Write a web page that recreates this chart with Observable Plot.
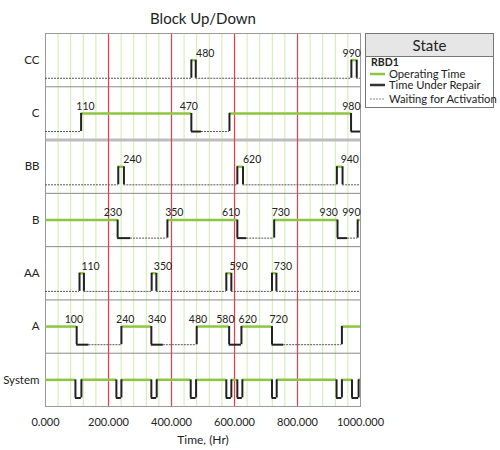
<!DOCTYPE html>
<html>
<head>
<meta charset="utf-8">
<script src="https://cdn.jsdelivr.net/npm/d3@7"></script>
<script src="https://cdn.jsdelivr.net/npm/@observablehq/plot@0.6"></script>
<style>
  body { margin: 0; background: #fff; font-family: Lato, "Open Sans", sans-serif; }
  #wrap { position: relative; width: 500px; height: 450px; }
  #legend { position: absolute; left: 365px; top: 33px; width: 127px; height: 73px; border: 1px solid #777; background: #fff; color: #222; }
  #legend .hdr { height: 22px; background: #e6e6e6; border-bottom: 1px solid #777; text-align: center; font-size: 15px; line-height: 22px; }
  #legend .grp { position: absolute; left: 5px; top: 23px; font-size: 10.5px; font-weight: bold; line-height: 10px; }
  #legend .item { position: absolute; left: 4px; height: 11px; font-size: 11.2px; line-height: 11px; white-space: nowrap; }
  #legend .item svg { position: absolute; left: 0; top: 3px; }
  #legend .item span { position: absolute; left: 19px; top: 0; }
</style>
</head>
<body>
<div id="wrap">
  <div id="chart"></div>
  <div id="legend">
    <div class="hdr">State</div>
    <div class="grp">RBD1</div>
    <div class="item" style="top:33.5px"><svg width="15" height="6"><line x1="0" x2="15" y1="3" y2="3" stroke="#8dc641" stroke-width="2.5"/></svg><span>Operating Time</span></div>
    <div class="item" style="top:45px"><svg width="15" height="6"><line x1="0" x2="15" y1="3" y2="3" stroke="#333" stroke-width="2.5"/></svg><span>Time Under Repair</span></div>
    <div class="item" style="top:59px"><svg width="15" height="6"><line x1="0" x2="15" y1="3" y2="3" stroke="#888" stroke-width="1" stroke-dasharray="2,1"/></svg><span>Waiting for Activation</span></div>
  </div>
</div>
<script>
// Row names (top to bottom)
const rowNames = ["CC", "C", "BB", "B", "AA", "A", "System"];

// State change times and the state in each interval: O = operating, R = under repair, W = waiting
const ccTimes = [0, 463, 477, 971, 988, 1000];
const ccStates = ["W", "O", "W", "O", "W"];
const cTimes = [0, 113, 463, 495, 584, 970, 1000];
const cStates = ["W", "O", "R", "W", "O", "R"];
const bbTimes = [0, 231, 249, 609, 627, 925, 943, 1000];
const bbStates = ["W", "O", "W", "O", "W", "O", "W"];
const bTimes = [0, 229, 270, 387, 609, 639, 726, 927, 959, 991, 1000];
const bStates = ["O", "R", "W", "O", "R", "W", "O", "R", "W", "O"];
const aaTimes = [0, 108, 122, 337, 352, 574, 590, 719, 733, 1000];
const aaStates = ["W", "O", "W", "O", "W", "O", "W", "O", "W"];
const aTimes = [0, 99, 138, 241, 336, 374, 480, 583, 622, 719, 756, 941, 1000];
const aStates = ["O", "R", "W", "O", "R", "W", "O", "R", "O", "R", "W", "O"];
const sysTimes = [0, 95, 114, 225, 241, 336, 353, 461, 478, 574, 590, 609, 625, 719, 734, 924, 941, 973, 994, 1000];
const sysStates = ["O", "R", "O", "R", "O", "R", "O", "R", "O", "R", "O", "R", "O", "R", "O", "R", "O", "R", "O"];

// Event labels (text) and the time they sit at
const ccLabels = ["480", "990"];      const ccLabelAt = [507, 972];
const cLabels = ["110", "470", "980"]; const cLabelAt = [127, 455, 971];
const bbLabels = ["240", "620", "940"]; const bbLabelAt = [276, 656, 966];
const bLabels = ["230", "350", "610", "730", "930", "990"]; const bLabelAt = [214, 409, 589, 747, 899, 971];
const aaLabels = ["110", "350", "590", "730"]; const aaLabelAt = [143, 373, 613, 754];
const aLabels = ["100", "240", "340", "480", "580", "620", "720"]; const aLabelAt = [90, 253, 354, 484, 571, 642, 740];
const sysLabels = []; const sysLabelAt = [];

// Axis ticks and grid
const xTicks = [0, 200, 400, 600, 800, 1000];
const redGrid = [200, 400, 600, 800];
const greenGrid = [40, 80, 120, 160, 240, 280, 320, 360, 440, 480, 520, 560, 640, 680, 720, 760, 840, 880, 920, 960];

const rows = [
  [ccTimes, ccStates, ccLabels, ccLabelAt],
  [cTimes, cStates, cLabels, cLabelAt],
  [bbTimes, bbStates, bbLabels, bbLabelAt],
  [bTimes, bStates, bLabels, bLabelAt],
  [aaTimes, aaStates, aaLabels, aaLabelAt],
  [aTimes, aStates, aLabels, aLabelAt],
  [sysTimes, sysStates, sysLabels, sysLabelAt]
];

const HIGH = 0.5, LOW = 0.84;
const level = s => (s === "O" ? HIGH : LOW);
const segs = [], verts = [], labels = [];
rows.forEach(([times, states, labs, at], r) => {
  states.forEach((s, k) => segs.push({x1: times[k], x2: times[k + 1], y: r + level(s), s}));
  for (let k = 1; k < states.length; k++) {
    if (level(states[k]) !== level(states[k - 1])) verts.push({x: times[k], y1: r + HIGH, y2: r + LOW});
  }
  labs.forEach((t, k) => labels.push({x: at[k], y: r + HIGH, t}));
});

const font = "Lato";
const chart = Plot.plot({
  width: 500,
  height: 450,
  marginLeft: 45,
  marginRight: 140,
  marginTop: 33,
  marginBottom: 44,
  style: {fontFamily: font, color: "#222", background: "#fff"},
  x: {domain: [0, 1000]},
  y: {domain: [0, 7], reverse: true, axis: null},
  marks: [
    Plot.ruleX(greenGrid, {x: d => d, stroke: "#d3e9b0", strokeWidth: 1}),
    Plot.ruleY([1, 3, 4, 5, 6], {y: d => d, stroke: "#8a8a8a", strokeWidth: 1}),
    Plot.ruleY([2], {y: d => d, stroke: "#bdbdbd", strokeWidth: 3}),
    Plot.ruleX(redGrid, {x: d => d, stroke: "#ef3b45", strokeWidth: 1.2}),
    Plot.frame({stroke: "#999"}),
    Plot.ruleY(segs.filter(d => d.s === "W"), {x1: "x1", x2: "x2", y: "y", stroke: "#555", strokeWidth: 1, strokeDasharray: "2,1"}),
    Plot.ruleY(segs.filter(d => d.s === "R"), {x1: "x1", x2: "x2", y: "y", stroke: "#222", strokeWidth: 2}),
    Plot.ruleY(segs.filter(d => d.s === "O"), {x1: "x1", x2: "x2", y: "y", stroke: "#8dc641", strokeWidth: 2.5}),
    Plot.ruleX(verts, {x: "x", y1: "y1", y2: "y2", stroke: "#222", strokeWidth: 2}),
    Plot.text(labels, {x: "x", y: "y", text: "t", dy: -7, fontSize: 10.5, fill: "#222"}),
    Plot.text(rowNames, {x: () => 0, y: (d, i) => i + HIGH, text: d => d, textAnchor: "end", dx: -6, fontSize: 11.5, fill: "#222"}),
    Plot.axisX({ticks: xTicks, tickFormat: d3.format(".3f"), tickSize: 0, tickPadding: 12, fontSize: 11, label: null}),
    Plot.text(["Time, (Hr)"], {frameAnchor: "bottom", dy: 37, fontSize: 12, fill: "#222"}),
    Plot.text(["Block Up/Down"], {frameAnchor: "top", dy: -20, fontSize: 15, fill: "#222"})
  ]
});
document.getElementById("chart").appendChild(chart);
</script>
</body>
</html>
